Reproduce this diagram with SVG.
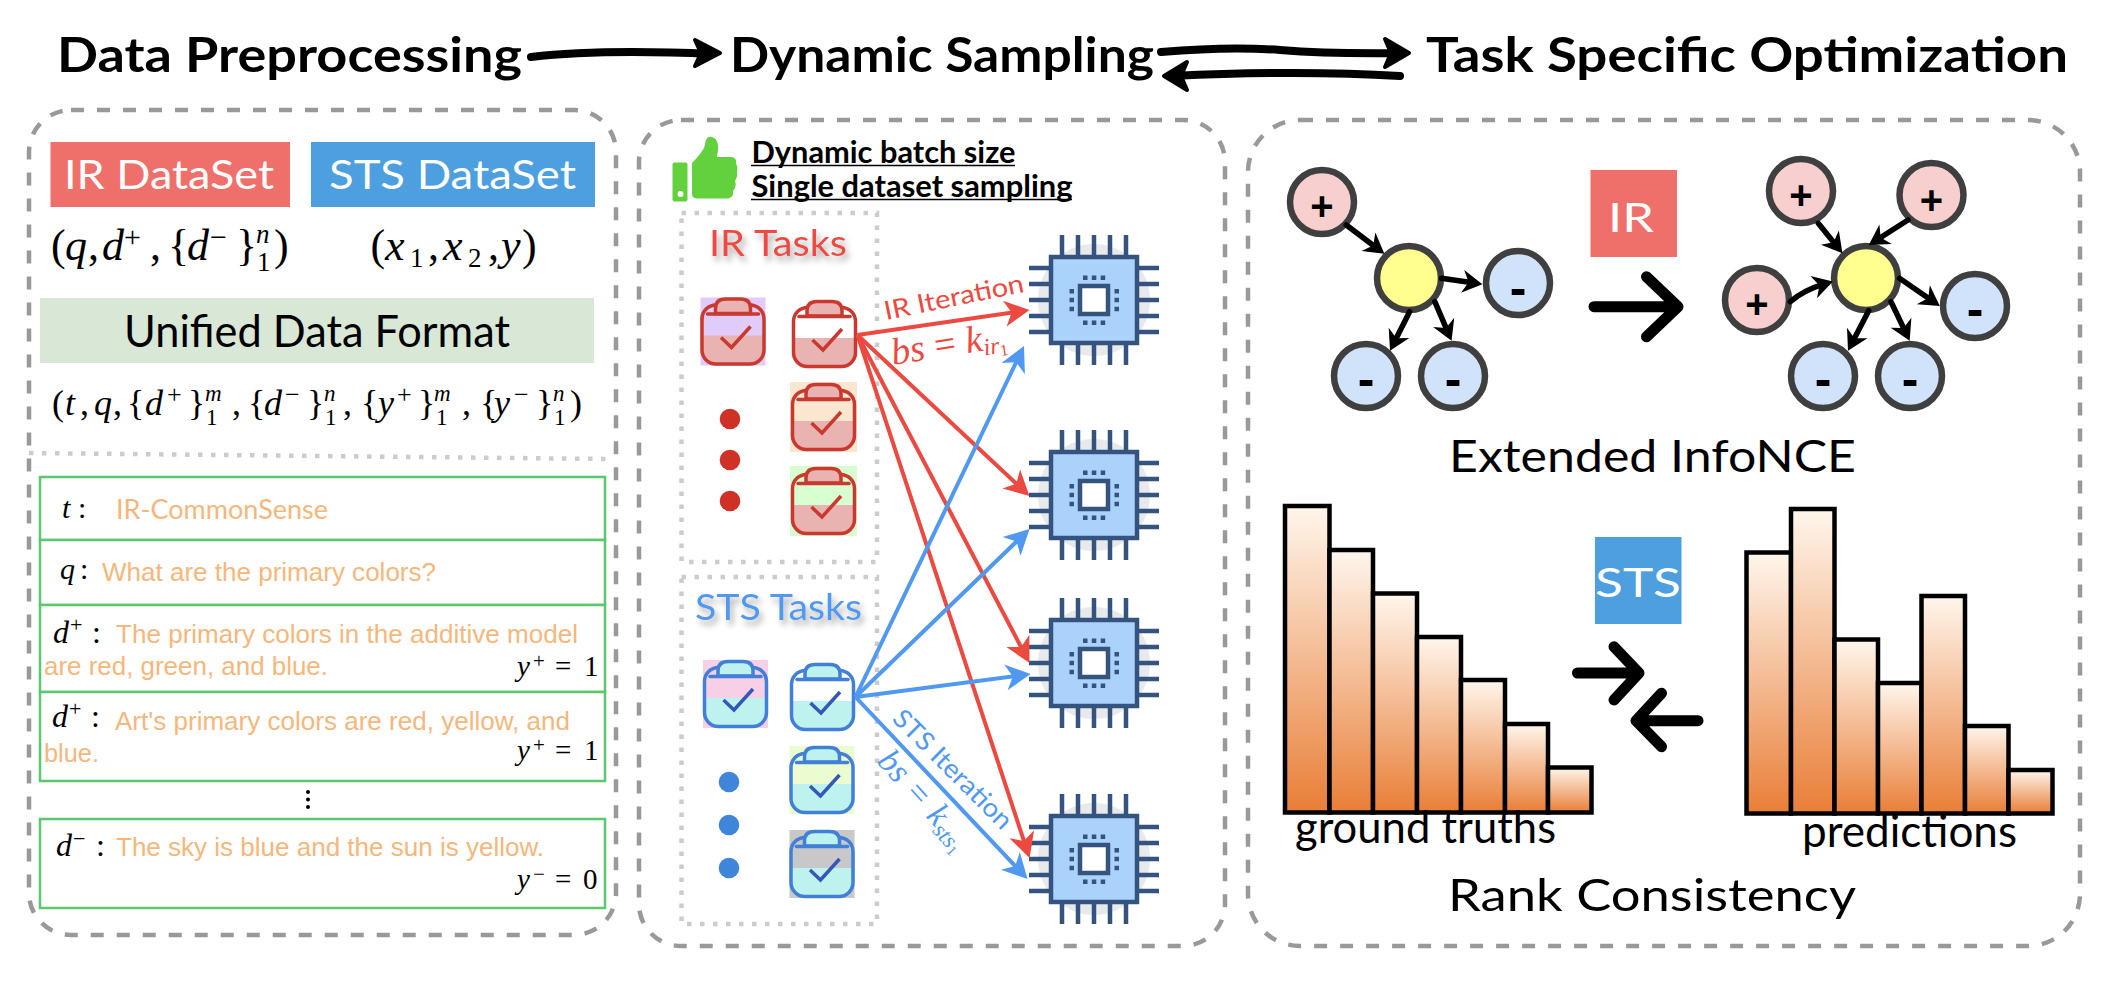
<svg xmlns="http://www.w3.org/2000/svg" width="2128" height="984" viewBox="0 0 2128 984">
<style>
text{font-family:"Lato","Noto Sans",sans-serif}
.title{font-size:48px;font-weight:700;fill:#000}
.hand{font-size:44px;font-weight:400;fill:#000}
.white{font-size:40px;fill:#fff}
.math,.math tspan{font-family:"Liberation Serif",serif;font-style:italic;fill:#000}
.math .u{font-style:normal}
.orange{font-family:"Liberation Sans",Arial,sans-serif;font-size:26px;fill:#F5B77C}
.panel{fill:none;stroke:#999;stroke-width:4.5;stroke-dasharray:13 13}
.dot{fill:none;stroke:#ccc;stroke-width:4.5;stroke-dasharray:4.5 8.5}
.row{fill:#fff;stroke:#5CC76F;stroke-width:2.5}
.pin{stroke:#34537F;stroke-width:4.5;fill:none}
.sq{fill:#34537F}
.ra{stroke:#EC4A41;stroke-width:4;fill:none;marker-end:url(#redHead)}
.ba{stroke:#5199F0;stroke-width:4;fill:none;marker-end:url(#blueHead)}
.ka{stroke:#000;stroke-width:5.5;fill:none;stroke-linecap:round;marker-end:url(#blackHead)}
.big{stroke:#000;stroke-width:11;fill:none;stroke-linecap:round;stroke-linejoin:round}
.thick{stroke:#000;stroke-width:8;fill:none;stroke-linecap:round}
.hd{fill:#000;stroke:#000;stroke-width:4;stroke-linejoin:round}
.c{stroke:#3F3F3F;stroke-width:6.5}
.pos{fill:#F7CFCE}.neg{fill:#D0E3FA}.anc{fill:#FFFF8F}
.sign{font-family:"Liberation Sans",sans-serif;font-weight:700;fill:#000;text-anchor:middle}
.bar{fill:url(#barGrad);stroke:#000;stroke-width:4.5}
</style>
<defs>
<linearGradient id="barGrad" x1="0" y1="0" x2="0" y2="1"><stop offset="0" stop-color="#FFF6EC"/><stop offset="1" stop-color="#E97E37"/></linearGradient>
<filter id="sh" x="-20%" y="-30%" width="140%" height="170%"><feDropShadow dx="3" dy="5" stdDeviation="3" flood-color="#000" flood-opacity=".35"/></filter>
<marker id="redHead" markerUnits="userSpaceOnUse" viewBox="-26 -14 28 28" refX="-12" refY="0" markerWidth="28" markerHeight="28" orient="auto"><path d="M-25,-13 L0,0 L-25,13 L-18,0 Z" fill="#EC4A41"/></marker>
<marker id="blueHead" markerUnits="userSpaceOnUse" viewBox="-26 -14 28 28" refX="-12" refY="0" markerWidth="28" markerHeight="28" orient="auto"><path d="M-25,-13 L0,0 L-25,13 L-18,0 Z" fill="#5199F0"/></marker>
<marker id="blackHead" markerUnits="userSpaceOnUse" viewBox="-22 -13 24 26" refX="-8" refY="0" markerWidth="24" markerHeight="26" orient="auto"><path d="M-20,-11.5 L0,0 L-20,11.5 L-14,0 Z" fill="#000"/></marker>
<g id="clipRed">
<path d="M1.5,38 H63.5 V53 a13,13 0 0 1 -13,13 H14.5 a13,13 0 0 1 -13,-13 Z" fill="#E8B3B0"/>
<rect x="1.5" y="7.5" width="62" height="59" rx="14" fill="none" stroke="#C9392F" stroke-width="3.5"/>
<path d="M15,16 V11 Q15,1.5 25,1.5 H40 Q50,1.5 50,11 V16 Z" fill="#E8B3B0" stroke="#C9392F" stroke-width="3.5"/>
<line x1="7" y1="16.5" x2="58" y2="16.5" stroke="#C9392F" stroke-width="3.5" stroke-linecap="round"/>
<path d="M20.5,40 L31,50 L50,29" fill="none" stroke="#C9392F" stroke-width="3.5"/>
</g>
<g id="clipBlue">
<path d="M1.5,38 H63.5 V53 a13,13 0 0 1 -13,13 H14.5 a13,13 0 0 1 -13,-13 Z" fill="#BEF2EE"/>
<rect x="1.5" y="7.5" width="62" height="59" rx="14" fill="none" stroke="#4280D8" stroke-width="3.5"/>
<path d="M15,16 V11 Q15,1.5 25,1.5 H40 Q50,1.5 50,11 V16 Z" fill="#BEF2EE" stroke="#4280D8" stroke-width="3.5"/>
<line x1="7" y1="16.5" x2="58" y2="16.5" stroke="#4280D8" stroke-width="3.5" stroke-linecap="round"/>
<path d="M20.5,40 L31,50 L50,29" fill="none" stroke="#3558B8" stroke-width="3.5"/>
</g>
<g id="chip">
<circle cx="0" cy="0" r="56" fill="#E8E9EB"/>
<path class="pin" d="M-32,-65V-45M-16,-65V-45M0,-65V-45M16,-65V-45M32,-65V-45M-32,45V65M-16,45V65M0,45V65M16,45V65M32,45V65M-65,-32H-45M-65,-16H-45M-65,0H-45M-65,16H-45M-65,32H-45M45,-32H65M45,-16H65M45,0H65M45,16H65M45,32H65"/>
<rect x="-43" y="-43" width="86" height="86" fill="#ABD2FA" stroke="#34537F" stroke-width="4.5"/>
<rect x="-14" y="-14" width="28" height="28" fill="#fff" stroke="#34537F" stroke-width="4.5"/>
<path class="sq" d="M-11,-24.5h4.5v4.5h-4.5zM-2.2,-24.5h4.5v4.5h-4.5zM6.7,-24.5h4.5v4.5h-4.5zM-11,20.5h4.5v4.5h-4.5zM-2.2,20.5h4.5v4.5h-4.5zM6.7,20.5h4.5v4.5h-4.5zM-24.5,-11h4.5v4.5h-4.5zM-24.5,-2.2h4.5v4.5h-4.5zM-24.5,6.7h4.5v4.5h-4.5zM20.5,-11h4.5v4.5h-4.5zM20.5,-2.2h4.5v4.5h-4.5zM20.5,6.7h4.5v4.5h-4.5z"/>
</g>
</defs>
<rect width="2128" height="984" fill="#fff"/>

<g id="titles">
<text id="title-data" class="title" x="57" y="72" textLength="465" lengthAdjust="spacingAndGlyphs">Data Preprocessing</text>
<text id="title-sampling" class="title" x="730" y="72" textLength="424" lengthAdjust="spacingAndGlyphs">Dynamic Sampling</text>
<text id="title-task" class="title" x="1426" y="72" textLength="642" lengthAdjust="spacingAndGlyphs">Task Specific Optimization</text>
</g>

<g id="panel-preprocessing">
<rect class="panel" x="29" y="110" width="587" height="825" rx="42"/>
<g id="ir-dataset"><rect x="50.5" y="142" width="239.5" height="65" fill="#EF706B"/><text class="white" x="64" y="189" textLength="210" lengthAdjust="spacingAndGlyphs">IR DataSet</text></g>
<g id="sts-dataset"><rect x="311" y="142" width="284" height="65" fill="#4D9FDF"/><text class="white" x="329" y="189" textLength="247" lengthAdjust="spacingAndGlyphs">STS DataSet</text></g>
<text class="math" font-size="44"><tspan x="51" y="260" class="u">(</tspan><tspan x="65" y="260">q</tspan><tspan x="88" y="260" class="u">,</tspan><tspan x="102" y="260">d</tspan><tspan x="124" y="247" class="u" font-size="30">+</tspan><tspan x="150" y="260" class="u">,</tspan><tspan x="168" y="260" class="u">{</tspan><tspan x="187" y="260">d</tspan><tspan x="210" y="247" class="u" font-size="30">−</tspan><tspan x="236" y="260" class="u">}</tspan><tspan x="256" y="243" font-size="27">n</tspan><tspan x="257" y="271" class="u" font-size="27">1</tspan><tspan x="274" y="260" class="u">)</tspan></text>
<text class="math" font-size="44"><tspan x="370.5" y="260" class="u">(</tspan><tspan x="385" y="260">x</tspan><tspan x="410" y="267" class="u" font-size="27">1</tspan><tspan x="428" y="260" class="u">,</tspan><tspan x="443" y="260">x</tspan><tspan x="468" y="267" class="u" font-size="27">2</tspan><tspan x="488" y="260" class="u">,</tspan><tspan x="501" y="260">y</tspan><tspan x="522" y="260" class="u">)</tspan></text>
<g id="unified-format"><rect x="40" y="298" width="554" height="65" fill="#D9E7D7"/><text class="hand" x="124" y="347" font-size="40" textLength="386" lengthAdjust="spacingAndGlyphs">Unified Data Format</text></g>
<text class="math" font-size="36"><tspan x="52" y="415" class="u">(</tspan><tspan x="65" y="415">t</tspan><tspan x="80" y="415" class="u">,</tspan><tspan x="94" y="415">q</tspan><tspan x="113" y="415" class="u">,</tspan><tspan x="127" y="415" class="u">{</tspan><tspan x="145" y="415">d</tspan><tspan x="167" y="403" class="u" font-size="26">+</tspan><tspan x="188" y="415" class="u">}</tspan><tspan x="205" y="401" font-size="23">m</tspan><tspan x="206" y="425" class="u" font-size="23">1</tspan><tspan x="232" y="415" class="u">,</tspan><tspan x="248" y="415" class="u">{</tspan><tspan x="264" y="415">d</tspan><tspan x="285" y="403" class="u" font-size="26">−</tspan><tspan x="307" y="415" class="u">}</tspan><tspan x="324" y="401" font-size="23">n</tspan><tspan x="325" y="425" class="u" font-size="23">1</tspan><tspan x="343" y="415" class="u">,</tspan><tspan x="361" y="415" class="u">{</tspan><tspan x="378" y="415">y</tspan><tspan x="397" y="403" class="u" font-size="26">+</tspan><tspan x="418" y="415" class="u">}</tspan><tspan x="434" y="401" font-size="23">m</tspan><tspan x="436" y="425" class="u" font-size="23">1</tspan><tspan x="462" y="415" class="u">,</tspan><tspan x="480" y="415" class="u">{</tspan><tspan x="494" y="415">y</tspan><tspan x="514" y="403" class="u" font-size="26">−</tspan><tspan x="536" y="415" class="u">}</tspan><tspan x="553" y="401" font-size="23">n</tspan><tspan x="554" y="425" class="u" font-size="23">1</tspan><tspan x="570" y="415" class="u">)</tspan></text>
<path class="dot" d="M29,453 L608,459"/>
<g id="row-t"><rect class="row" x="40" y="477" width="565" height="63"/>
<text class="math" font-size="30"><tspan x="62" y="518">t</tspan><tspan x="78" y="518" class="u">:</tspan></text>
<text x="116" y="519" font-size="26" fill="#F5B77C" textLength="212" lengthAdjust="spacingAndGlyphs">IR-CommonSense</text></g>
<g id="row-q"><rect class="row" x="40" y="540" width="565" height="65"/>
<text class="math" font-size="30"><tspan x="60" y="579">q</tspan><tspan x="80" y="579" class="u">:</tspan></text>
<text class="orange" x="102" y="581" textLength="334" lengthAdjust="spacingAndGlyphs">What are the primary colors?</text></g>
<g id="row-d1"><rect class="row" x="40" y="605" width="565" height="87"/>
<text class="math" font-size="32"><tspan x="53" y="643">d</tspan><tspan x="70" y="632" class="u" font-size="22">+</tspan><tspan x="92" y="643" class="u">:</tspan></text>
<text class="orange" x="116" y="643" textLength="462" lengthAdjust="spacingAndGlyphs">The primary colors in the additive model</text>
<text class="orange" x="44" y="675" textLength="284" lengthAdjust="spacingAndGlyphs">are red, green, and blue.</text>
<text class="math" font-size="29"><tspan x="517" y="676">y</tspan><tspan x="533" y="668" class="u" font-size="21">+</tspan><tspan x="555" y="676" class="u">=</tspan><tspan x="584" y="676" class="u">1</tspan></text></g>
<g id="row-d2"><rect class="row" x="40" y="692" width="565" height="89"/>
<text class="math" font-size="32"><tspan x="52" y="727">d</tspan><tspan x="69" y="716" class="u" font-size="22">+</tspan><tspan x="91" y="727" class="u">:</tspan></text>
<text class="orange" x="115" y="730" textLength="455" lengthAdjust="spacingAndGlyphs">Art's primary colors are red, yellow, and</text>
<text class="orange" x="44" y="762" textLength="55" lengthAdjust="spacingAndGlyphs">blue.</text>
<text class="math" font-size="29"><tspan x="517" y="760">y</tspan><tspan x="533" y="752" class="u" font-size="21">+</tspan><tspan x="555" y="760" class="u">=</tspan><tspan x="584" y="760" class="u">1</tspan></text></g>
<g id="vdots" fill="#000"><circle cx="308" cy="792" r="2"/><circle cx="308" cy="799.5" r="2"/><circle cx="308" cy="807" r="2"/></g>
<g id="row-d3"><rect class="row" x="40" y="819" width="565" height="89"/>
<text class="math" font-size="32"><tspan x="56" y="856">d</tspan><tspan x="73" y="846" class="u" font-size="22">−</tspan><tspan x="96" y="856" class="u">:</tspan></text>
<text class="orange" x="116" y="856" textLength="428" lengthAdjust="spacingAndGlyphs">The sky is blue and the sun is yellow.</text>
<text class="math" font-size="29"><tspan x="517" y="889">y</tspan><tspan x="533" y="881" class="u" font-size="21">−</tspan><tspan x="555" y="889" class="u">=</tspan><tspan x="583" y="889" class="u">0</tspan></text></g>
</g>

<g id="panel-sampling">
<rect class="panel" x="639" y="120" width="586" height="826" rx="42"/>
<g id="thumb" fill="#62D13D"><rect x="672.5" y="162.5" width="15" height="39" rx="2"/><circle cx="680.5" cy="194" r="3" fill="#fff"/><path d="M692,163 Q700,155 704,148 L706,140 Q708,136 712,137 Q719,139 718,150 L717,157 L732,157 Q737,158 736,164 Q738,166 737,172 Q738,176 735,181 Q737,186 733,191 Q734,197 728,198.5 L697,198.5 Q692,198 692,194 Z"/></g>
<g id="benefits"><text x="751.5" y="163" font-size="30" font-weight="700" textLength="264" lengthAdjust="spacingAndGlyphs">Dynamic batch size</text><line x1="751" y1="165.5" x2="1015" y2="165.5" stroke="#000" stroke-width="1.6"/><text x="751.5" y="197" font-size="30" font-weight="700" textLength="321" lengthAdjust="spacingAndGlyphs">Single dataset sampling</text><line x1="751" y1="199.5" x2="1072" y2="199.5" stroke="#000" stroke-width="1.6"/></g>
<g id="ir-tasks"><rect class="dot" x="681.5" y="213" width="195.5" height="349"/>
<text x="709" y="256" font-size="36" fill="#EE4A43" filter="url(#sh)" textLength="138" lengthAdjust="spacingAndGlyphs">IR Tasks</text>
<rect x="700.5" y="297.5" width="65" height="68" fill="#E0CBFB"/><use href="#clipRed" x="700.5" y="297.5"/>
<use href="#clipRed" x="792" y="300"/>
<rect x="790" y="382" width="67" height="70" fill="#FBE6D0"/><use href="#clipRed" x="791" y="383"/>
<rect x="790" y="466" width="67" height="70" fill="#D8FFD0"/><use href="#clipRed" x="791" y="467"/>
<circle cx="730" cy="419" r="10.3" fill="#CF3127"/><circle cx="730" cy="460" r="10.3" fill="#CF3127"/><circle cx="730" cy="501" r="10.3" fill="#CF3127"/></g>
<g id="sts-tasks"><rect class="dot" x="681.5" y="577" width="195.5" height="347"/>
<text x="695" y="620" font-size="36" fill="#5199F0" filter="url(#sh)" textLength="167" lengthAdjust="spacingAndGlyphs">STS Tasks</text>
<rect x="703" y="660" width="65" height="68" fill="#F7CFE7"/><use href="#clipBlue" x="703" y="660"/>
<use href="#clipBlue" x="790" y="663"/>
<rect x="789.5" y="746" width="65" height="68" fill="#EBFDD0"/><use href="#clipBlue" x="789.5" y="746"/>
<rect x="789.5" y="830" width="65" height="68" fill="#C8C8C8"/><use href="#clipBlue" x="789.5" y="830"/>
<circle cx="729" cy="782" r="10.3" fill="#3F85D9"/><circle cx="729" cy="825" r="10.3" fill="#3F85D9"/><circle cx="729" cy="868" r="10.3" fill="#3F85D9"/></g>
<use id="chip-1" href="#chip" x="1094" y="300"/>
<use id="chip-2" href="#chip" x="1094" y="495"/>
<use id="chip-3" href="#chip" x="1094" y="663"/>
<use id="chip-4" href="#chip" x="1094" y="859"/>
</g>

<g id="panel-optimization">
<rect class="panel" x="1248" y="120" width="832" height="826" rx="52"/>
<g id="graph-left">
<ellipse class="c pos" cx="1322" cy="202" rx="32" ry="32"/><text class="sign" x="1322" y="220" font-size="40">+</text>
<ellipse class="c anc" cx="1409" cy="278" rx="32" ry="32"/>
<ellipse class="c neg" cx="1518" cy="283" rx="32" ry="32"/><text class="sign" x="1518" y="305" font-size="50">-</text>
<ellipse class="c neg" cx="1366" cy="376" rx="32" ry="32"/><text class="sign" x="1366" y="396" font-size="50">-</text>
<ellipse class="c neg" cx="1453" cy="376" rx="32" ry="32"/><text class="sign" x="1453" y="396" font-size="50">-</text>
</g>
<g id="ir-badge"><rect x="1590.5" y="170" width="86.5" height="87" fill="#EF706B"/><text class="white" x="1608" y="231.5" font-size="48" textLength="46" lengthAdjust="spacingAndGlyphs">IR</text></g>
<g id="graph-right">
<ellipse class="c pos" cx="1801" cy="191" rx="32" ry="32"/><text class="sign" x="1801" y="209" font-size="40">+</text>
<ellipse class="c pos" cx="1931.5" cy="195" rx="32" ry="32"/><text class="sign" x="1931.5" y="214" font-size="40">+</text>
<ellipse class="c pos" cx="1757" cy="300" rx="32" ry="32"/><text class="sign" x="1757" y="318" font-size="40">+</text>
<ellipse class="c anc" cx="1866" cy="278" rx="32" ry="32"/>
<ellipse class="c neg" cx="1975" cy="306" rx="32" ry="32"/><text class="sign" x="1975" y="326" font-size="50">-</text>
<ellipse class="c neg" cx="1823" cy="376" rx="32" ry="32"/><text class="sign" x="1823" y="396" font-size="50">-</text>
<ellipse class="c neg" cx="1910" cy="376" rx="32" ry="32"/><text class="sign" x="1910" y="396" font-size="50">-</text>
</g>
<text id="infonce" class="hand" x="1449" y="471.5" font-size="46" textLength="407" lengthAdjust="spacingAndGlyphs">Extended InfoNCE</text>
<g id="chart-truths">
<rect class="bar" x="1285" y="506" width="44.5" height="306.5"/><rect class="bar" x="1329.5" y="550" width="43.5" height="262.5"/><rect class="bar" x="1373" y="593.5" width="44" height="219"/><rect class="bar" x="1417" y="637" width="44" height="175.5"/><rect class="bar" x="1461" y="680" width="44" height="132.5"/><rect class="bar" x="1505" y="724" width="43" height="88.5"/><rect class="bar" x="1548" y="767.5" width="43.5" height="45"/>
<text class="hand" x="1295" y="842.5" font-size="38" textLength="261" lengthAdjust="spacingAndGlyphs">ground truths</text></g>
<g id="sts-badge"><rect x="1595" y="537" width="86.5" height="87" fill="#4D9FDF"/><text class="white" x="1595" y="597" font-size="48" textLength="86" lengthAdjust="spacingAndGlyphs">STS</text></g>
<g id="chart-predictions">
<rect class="bar" x="1746.5" y="552.5" width="44.5" height="261"/><rect class="bar" x="1791" y="509" width="43.5" height="304.5"/><rect class="bar" x="1834.5" y="639.5" width="43.5" height="174"/><rect class="bar" x="1878" y="683" width="43.5" height="130.5"/><rect class="bar" x="1921.5" y="596" width="43.5" height="217.5"/><rect class="bar" x="1965" y="726" width="43.5" height="87.5"/><rect class="bar" x="2008.5" y="770" width="44" height="43.5"/>
<text class="hand" x="1802" y="847" font-size="38" textLength="215" lengthAdjust="spacingAndGlyphs">predictions</text></g>
<text id="rank" class="hand" x="1448" y="910.5" font-size="46" textLength="408" lengthAdjust="spacingAndGlyphs">Rank Consistency</text>
</g>

<g id="connectors">
<path class="thick" d="M531,57 Q600,49 712,54"/><path class="hd" d="M695,40 L720,53 L695,66 L701,53 Z"/>
<path class="thick" d="M1161,52 Q1230,46 1280,50 T1402,53"/><path class="hd" d="M1385,39 L1409,53 L1385,67 L1391,53 Z"/>
<path class="thick" d="M1400,76 Q1300,70 1172,76"/><path class="hd" d="M1187,62 L1164,76 L1187,90 L1181,76 Z"/>
<path class="ra" d="M857.5,335 L1017.6,311.7" stroke-width="4.5"/>
<path class="ra" d="M857.5,335 L1020.7,487.8"/>
<path class="ra" d="M857.5,335 L1023.9,652.4"/>
<path class="ra" d="M857.5,335 L1025.8,846.6"/>
<path class="ba" d="M855.5,697 L1018.8,356.8"/>
<path class="ba" d="M855.5,697 L1020.9,537.3"/>
<path class="ba" d="M855.5,697 L1018.8,675.6"/>
<path class="ba" d="M855.5,697 L1019.3,870.3"/>
<g id="arrow-labels">
<text transform="translate(886,320) rotate(-11.5)" font-size="26" fill="#EC4A41" textLength="142" lengthAdjust="spacingAndGlyphs">IR Iteration</text>
<text class="math" transform="translate(893,365) rotate(-9)" font-size="38" style="fill:#EC4A41"><tspan style="fill:#EC4A41">bs</tspan><tspan dx="10" class="u" style="fill:#EC4A41">=</tspan><tspan dx="10" style="fill:#EC4A41">k</tspan><tspan dy="5" font-size="24" style="fill:#EC4A41">ir</tspan><tspan dy="3" font-size="16" class="u" style="fill:#EC4A41">1</tspan></text>
<text transform="translate(891,720) rotate(45)" font-size="26" fill="#5199F0" textLength="157" lengthAdjust="spacingAndGlyphs">STS Iteration</text>
<text class="math" transform="translate(876,762) rotate(48)" font-size="34" style="fill:#5199F0"><tspan style="fill:#5199F0">bs</tspan><tspan dx="12" class="u" style="fill:#5199F0">=</tspan><tspan dx="12" style="fill:#5199F0">k</tspan><tspan dy="5" font-size="23" style="fill:#5199F0">sts</tspan><tspan dy="3" font-size="15" class="u" style="fill:#5199F0">1</tspan></text>
</g>
<path class="ka" d="M1346.3,225 L1378,249"/>
<path class="ka" d="M1441.5,278.3 L1474.5,283"/>
<path class="ka" d="M1409.6,311.7 L1393.6,343.6"/>
<path class="ka" d="M1434.8,301.7 L1448.4,333.4"/>
<path class="ka" d="M1818.3,223.3 L1837.4,247"/>
<path class="ka" d="M1908,220 L1875.5,240.7"/>
<path class="ka" d="M1790.3,301.7 Q1804,290 1825.2,283.7"/>
<path class="ka" d="M1899.5,278.3 L1933.2,301.5"/>
<path class="ka" d="M1868.7,310.7 L1851.7,343.6"/>
<path class="ka" d="M1891,301.7 L1906.2,333.5"/>
<path class="big" d="M1594,306.7 H1676 M1646.5,276.7 L1678,306.7 L1646.5,336.7"/>
<path class="big" d="M1577.5,673 H1637 M1614,646.7 L1639,673 L1614,700"/>
<path class="big" d="M1698,720.7 H1638 M1661.5,693.3 L1636,720.7 L1661.5,746.7"/>
</g>
</svg>
